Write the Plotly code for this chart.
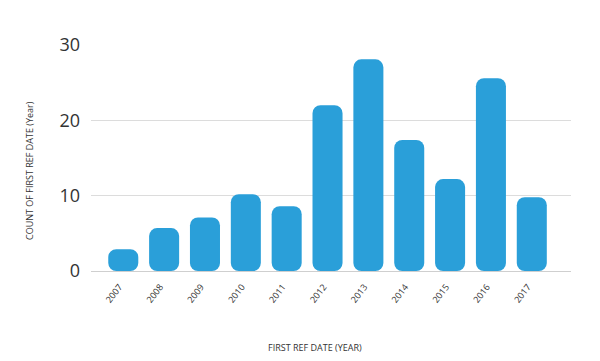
import plotly.graph_objects as go

years = ["2007", "2008", "2009", "2010", "2011", "2012", "2013", "2014", "2015", "2016", "2017"]
counts = [2.9, 5.7, 7.1, 10.2, 8.6, 22.0, 28.1, 17.4, 12.2, 25.6, 9.8]
bases = [0] * len(counts)
y_ticks = [0, 10, 20, 30]
Y_MAX = 30

BLUE = "#2a9fd9"
TXT = "#333333"

fig = go.Figure()
fig.add_trace(go.Bar(x=list(range(len(years))), y=counts, base=bases,
                     marker=dict(color=BLUE, line=dict(width=0)), width=0.735,
                     showlegend=False))

fig.update_layout(
    width=600, height=361,
    margin=dict(l=91, r=29, t=45, b=90),
    paper_bgcolor="white", plot_bgcolor="white",
    barcornerradius=8,
    font=dict(family="Open Sans", color=TXT),
    xaxis=dict(
        range=[-0.79, 10.96],
        tickmode="array", tickvals=list(range(len(years))), ticktext=years,
        tickangle=-52, tickfont=dict(size=9, color=TXT),
        ticklabelstandoff=8, ticklabelshift=-4,
        showgrid=False, zeroline=False, showline=False, ticks="",
    ),
    yaxis=dict(
        range=[0, Y_MAX], tickmode="array", tickvals=y_ticks,
        tickfont=dict(size=18, color=TXT),
        showgrid=True, gridcolor="#dcdcdc", gridwidth=1,
        zeroline=True, zerolinecolor="#cfcfcf", zerolinewidth=1,
        showline=False, ticks="", ticklabelstandoff=10,
    ),
    annotations=[
        dict(text="FIRST REF DATE (YEAR)", xref="paper", yref="paper",
             x=(314.5 - 91) / 480, y=-(347 - 271) / 226, xanchor="center", yanchor="middle",
             showarrow=False, font=dict(size=9, color=TXT)),
        dict(text="COUNT OF FIRST REF DATE (Year)", xref="paper", yref="paper",
             x=-(91 - 29) / 480, y=(271 - 170) / 226, xanchor="center", yanchor="middle",
             textangle=-90, showarrow=False, font=dict(size=9, color=TXT)),
    ],
)

fig.write_html("out.html", config={"displayModeBar": False},
               post_script="document.body.style.margin='0';")
